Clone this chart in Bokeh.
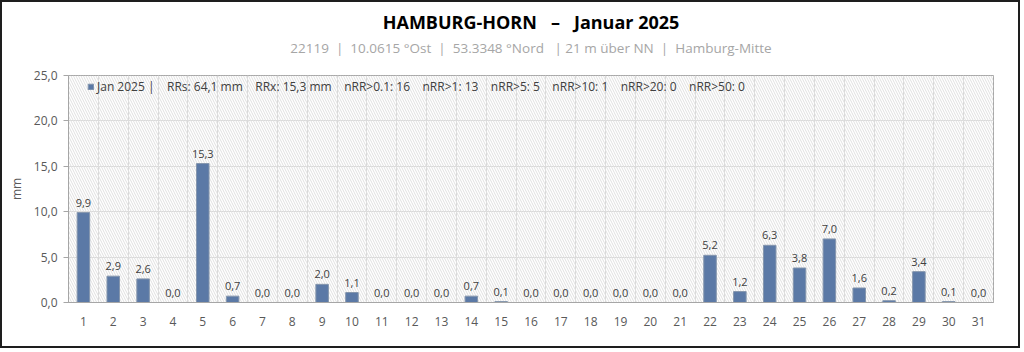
from bokeh.plotting import figure
from bokeh.models import (ColumnDataSource, FixedTicker, Title, Legend, LegendItem,
                          BoxAnnotation, LabelSet)
from bokeh.core.properties import value
from bokeh.embed import file_html
from bokeh.resources import INLINE

# ---- data ----
days = list(range(1, 32))
rain_mm = [9.9, 2.9, 2.6, 0.0, 15.3, 0.7, 0.0, 0.0, 2.0, 1.1, 0.0, 0.0, 0.0, 0.7, 0.1,
           0.0, 0.0, 0.0, 0.0, 0.0, 0.0, 5.2, 1.2, 6.3, 3.8, 7.0, 1.6, 0.2, 3.4, 0.1, 0.0]
y_ticks = [0, 5, 10, 15, 20, 25]
y_tick_labels = ["0,0", "5,0", "10,0", "15,0", "20,0", "25,0"]
series_name = "Jan 2025"
NB = "\u00a0"
title_text = f"HAMBURG-HORN{NB*3}\u2013{NB*3}Januar 2025"
subtitle_text = NB.join(["22119", "", "|", "", "10.0615", "\u00b0Ost", "", "|", "", "53.3348",
                         "\u00b0Nord", "", "", "|", "21", "m", "\u00fcber", "NN", "", "|", "",
                         "Hamburg-Mitte"])

FONT = "Open Sans"

def fmt(v):
    return f"{v:.1f}".replace(".", ",")

labels = [fmt(v) for v in rain_mm]
rrs = sum(rain_mm)
rrx = max(rain_mm)
counts = [(t, sum(1 for v in rain_mm if v > t + 1e-9 or (t >= 1 and v >= t))) for t in (0.1, 1, 5, 10, 20, 50)]
parts = [f"{series_name} |", f"RRs: {fmt(rrs)} mm", f"RRx: {fmt(rrx)} mm"]
for t, c in counts:
    tt = str(t) if t < 1 else str(int(t))
    parts.append(f"nRR>{tt}: {c}")
legend_text = (NB * 4).join(parts)

src = ColumnDataSource(dict(x=days, top=rain_mm, lab=labels))

p = figure(width=1020, height=348, x_range=(0.5, 31.5), y_range=(0, 25),
           output_backend="svg", toolbar_location=None,
           min_border_left=66, min_border_right=29, min_border_bottom=48, min_border_top=73)
p.styles = {"border": "2px solid #1e1e1e"}
p.background_fill_color = "white"
p.border_fill_color = "white"
p.outline_line_color = "#a6a6a6"
p.outline_line_width = 1

# hatched plot background
p.add_layout(BoxAnnotation(left=0.5, right=31.5, bottom=0, top=25, fill_alpha=0,
                           line_alpha=0, hatch_pattern="left_diagonal_line",
                           hatch_color="#e0e0e0", hatch_scale=5, hatch_weight=1,
                           level="underlay"))

# titles (spacer closest to the frame, then subtitle, then main title)
p.title.visible = False
p.add_layout(Title(text=NB, align="center", text_font=FONT, text_font_size="8px",
                   standoff=3), "above")
p.add_layout(Title(text=subtitle_text, align="center", text_font=FONT, text_font_size="13.5px",
                   text_font_style="normal", text_color="#a6a6a6", standoff=6), "above")
p.add_layout(Title(text=title_text, align="center", text_font=FONT, text_font_size="18px",
                   text_font_style="bold", text_color="#000000", standoff=0), "above")

r = p.vbar(x="x", top="top", width=0.42, source=src, fill_color="#5b79a6",
           line_color="#8596ad", line_width=1)

p.add_layout(LabelSet(x="x", y="top", text="lab", source=src, text_align="center",
                      text_baseline="bottom", y_offset=6, text_font=value(FONT),
                      text_font_size="11px", text_color="#404040"))

# axes
p.xaxis.ticker = FixedTicker(ticks=days)
p.xaxis.major_tick_line_color = None
p.xaxis.minor_tick_line_color = None
p.xaxis.axis_line_color = "#a6a6a6"
p.xaxis.major_label_text_font = FONT
p.xaxis.major_label_text_font_size = "12px"
p.xaxis.major_label_text_color = "#595959"
p.xaxis.major_label_standoff = 8

p.yaxis.ticker = FixedTicker(ticks=y_ticks)
p.yaxis.major_label_overrides = {t: l for t, l in zip(y_ticks, y_tick_labels)}
p.yaxis.major_tick_in = 0
p.yaxis.major_tick_out = 5
p.yaxis.major_tick_line_color = "#a6a6a6"
p.yaxis.minor_tick_line_color = None
p.yaxis.axis_line_color = "#a6a6a6"
p.yaxis.major_label_text_font = FONT
p.yaxis.major_label_text_font_size = "12px"
p.yaxis.major_label_text_color = "#595959"
p.yaxis.major_label_standoff = 6
p.yaxis.axis_label = "mm"
p.yaxis.axis_label_text_font = FONT
p.yaxis.axis_label_text_font_size = "12px"
p.yaxis.axis_label_text_font_style = "normal"
p.yaxis.axis_label_text_color = "#595959"
p.yaxis.axis_label_standoff = 6

# grid
p.xgrid.ticker = FixedTicker(ticks=[d - 0.5 for d in days] + [days[-1] + 0.5])
p.xgrid.grid_line_color = "#d9d9d9"
p.ygrid.ticker = FixedTicker(ticks=y_ticks)
p.ygrid.grid_line_color = "#d9d9d9"

legend = Legend(items=[LegendItem(label=legend_text, renderers=[r])], location=(17, 205),
                background_fill_alpha=0, border_line_alpha=0, glyph_width=7, glyph_height=7,
                label_text_font=FONT, label_text_font_size="12px", label_text_color="#404040",
                margin=0, padding=2, label_standoff=3, spacing=0)
p.add_layout(legend)

open("out.html", "w").write(file_html(p, INLINE))
